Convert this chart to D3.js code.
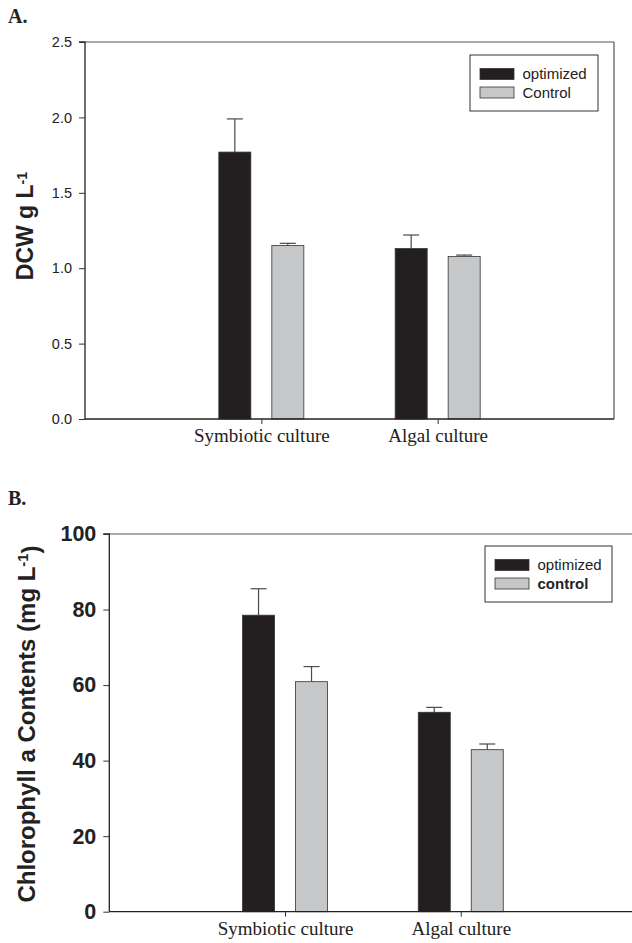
<!DOCTYPE html>
<html>
<head>
<meta charset="utf-8">
<script src="https://cdn.jsdelivr.net/npm/d3@7"></script>
<style>
  body { margin: 0; background: #fff; }
  svg { display: block; }
</style>
</head>
<body>
<div id="chart"></div>
<script>
// data
const categories = ["Symbiotic culture", "Algal culture"]
const seriesA = ["optimized", "Control"]
const seriesB = ["optimized", "control"]

// A. dry cell weight (g/L)
const dcwOptimized = [1.77, 1.13]
const dcwOptimizedErr = [0.22, 0.09]
const dcwControl = [1.15, 1.077]
const dcwControlErr = [0.015, 0.01]
const dcwTicks = [0.0, 0.5, 1.0, 1.5, 2.0, 2.5]

// B. chlorophyll a (mg/L)
const chlOptimized = [78.5, 52.8]
const chlOptimizedErr = [7.0, 1.3]
const chlControl = [60.9, 42.9]
const chlControlErr = [4.0, 1.5]
const chlTicks = [0, 20, 40, 60, 80, 100]

const colors = ["#231f20", "#c6c7c9"]

let svg = d3.select("#chart")
    .append("svg")
    .attr("width", 632)
    .attr("height", 943)

// draws one panel; box = plot area in px
function drawPanel(opts) {
    let g = svg.append("g")
    let box = opts.box

    let x = d3.scalePoint()
        .domain(categories)
        .range([box.left, box.right])
        .padding(1)

    // two bars per category, 32px wide with 21px gap
    let x1 = d3.scaleBand()
        .domain(opts.series)
        .range([-42.5, 42.5])
        .paddingInner(0.396)

    let y = d3.scaleLinear()
        .domain(opts.domain)
        .range([box.bottom, box.top])

    // frame top / right
    g.append("line")
        .attr("x1", box.left).attr("x2", box.right)
        .attr("y1", box.top).attr("y2", box.top)
        .attr("stroke", "#555").attr("stroke-width", 1.2)
    g.append("line")
        .attr("x1", box.right).attr("x2", box.right)
        .attr("y1", box.top).attr("y2", box.bottom)
        .attr("stroke", "#555").attr("stroke-width", 1.2)

    // rows of bar data
    let rows = []
    categories.forEach(function (c, i) {
        opts.values.forEach(function (vals, s) {
            rows.push({ cat: c, ser: opts.series[s], v: vals[i], e: opts.errors[s][i], s: s })
        })
    })

    // error bars (upper side only)
    let eb = g.append("g").selectAll("g")
        .data(rows).enter()
        .append("g")
        .attr("stroke", "#4a4a4a")
        .attr("stroke-width", 1.2)
    eb.append("line")
        .attr("x1", d => x(d.cat) + x1(d.ser) + x1.bandwidth() / 2)
        .attr("x2", d => x(d.cat) + x1(d.ser) + x1.bandwidth() / 2)
        .attr("y1", d => y(d.v))
        .attr("y2", d => y(d.v + d.e))
    eb.append("line")
        .attr("x1", d => x(d.cat) + x1(d.ser) + x1.bandwidth() / 4)
        .attr("x2", d => x(d.cat) + x1(d.ser) + x1.bandwidth() * 3 / 4)
        .attr("y1", d => y(d.v + d.e))
        .attr("y2", d => y(d.v + d.e))

    g.append("g").selectAll("rect")
        .data(rows).enter()
        .append("rect")
        .attr("x", d => x(d.cat) + x1(d.ser))
        .attr("width", x1.bandwidth())
        .attr("y", d => y(d.v))
        .attr("height", d => y(0) - y(d.v))
        .attr("fill", d => colors[d.s])
        .attr("stroke", "#333")
        .attr("stroke-width", 0.8)

    // axes
    let yAxis = d3.axisLeft(y)
        .tickValues(opts.ticks)
        .tickFormat(opts.fmt)
        .tickSize(6)
        .tickPadding(7)
    let ya = g.append("g")
        .attr("transform", `translate(${box.left},0)`)
        .call(yAxis)
    ya.select(".domain").attr("stroke", "#222").attr("stroke-width", 1.3)
        .attr("d", `M-6,${box.top}H0V${box.bottom}`)
    ya.selectAll(".tick line").attr("stroke", "#333")
    ya.selectAll("text")
        .attr("fill", "#222")
        .style("font-family", "Liberation Sans, Arial, sans-serif")
        .style("font-size", opts.tickSize + "px")
        .style("font-weight", opts.tickWeight)

    let xa = g.append("g")
        .attr("transform", `translate(0,${box.bottom})`)
        .call(d3.axisBottom(x).tickSize(5).tickPadding(5))
    xa.select(".domain").attr("stroke", "#222").attr("stroke-width", 1.3)
        .attr("d", `M${box.left},0H${box.right}`)
    xa.selectAll(".tick line").attr("stroke", "#333")
    xa.selectAll("text")
        .attr("fill", "#222")
        .attr("dy", "0.71em")
        .style("font-family", "Liberation Serif, Times New Roman, serif")
        .style("font-size", "19px")

    // y title
    let yt = g.append("text")
        .attr("transform", `translate(${opts.titleX},${opts.titleY}) rotate(-90)`)
        .attr("text-anchor", "middle")
        .attr("fill", "#222")
        .style("font-family", "Liberation Sans, Arial, sans-serif")
        .style("font-size", opts.titleSize + "px")
        .style("font-weight", "bold")
    yt.append("tspan").text(opts.title)
    yt.append("tspan").attr("dy", "-0.45em").style("font-size", "0.62em").text("-1")
    if (opts.titleTail) yt.append("tspan").attr("dy", "0.45em").text(opts.titleTail)

    // panel letter
    g.append("text")
        .attr("x", 8)
        .attr("y", opts.letterY)
        .text(opts.letter)
        .attr("fill", "#222")
        .style("font-family", "Liberation Serif, Times New Roman, serif")
        .style("font-size", "20px")
        .style("font-weight", "bold")

    // legend
    let lg = opts.legend
    g.append("rect")
        .attr("x", lg.x).attr("y", lg.y)
        .attr("width", lg.w).attr("height", lg.h)
        .attr("fill", "#fff").attr("stroke", "#333").attr("stroke-width", 1)
    opts.series.forEach(function (s, i) {
        g.append("rect")
            .attr("x", lg.x + 10).attr("y", lg.y + 13.5 + i * 18.5)
            .attr("width", 34).attr("height", 11)
            .attr("fill", colors[i]).attr("stroke", "#333").attr("stroke-width", 0.8)
        g.append("text")
            .attr("x", lg.x + 52.5).attr("y", lg.y + 24 + i * 18.5)
            .text(s)
            .attr("fill", "#222")
            .style("font-family", "Liberation Sans, Arial, sans-serif")
            .style("font-size", "15px")
            .style("font-weight", i == 1 && lg.boldSecond ? "bold" : "normal")
    })
}

drawPanel({
    box: { left: 85, right: 614, top: 42, bottom: 419 },
    domain: [0, 2.5],
    ticks: dcwTicks,
    fmt: d3.format(".1f"),
    tickSize: 14.5,
    tickWeight: "normal",
    series: seriesA,
    values: [dcwOptimized, dcwControl],
    errors: [dcwOptimizedErr, dcwControlErr],
    title: "DCW g L",
    titleX: 33,
    titleY: 226,
    titleSize: 23,
    letter: "A.",
    letterY: 23,
    legend: { x: 470, y: 55, w: 128, h: 56, boldSecond: false }
})

drawPanel({
    box: { left: 109.3, right: 636.5, top: 534, bottom: 911.7 },
    domain: [0, 100],
    ticks: chlTicks,
    fmt: d3.format("d"),
    tickSize: 21.5,
    tickWeight: "bold",
    series: seriesB,
    values: [chlOptimized, chlControl],
    errors: [chlOptimizedErr, chlControlErr],
    title: "Chlorophyll a Contents (mg L",
    titleTail: ")",
    titleX: 35,
    titleY: 724,
    titleSize: 24,
    letter: "B.",
    letterY: 505,
    legend: { x: 485, y: 546, w: 127, h: 56, boldSecond: true }
})
</script>
</body>
</html>
